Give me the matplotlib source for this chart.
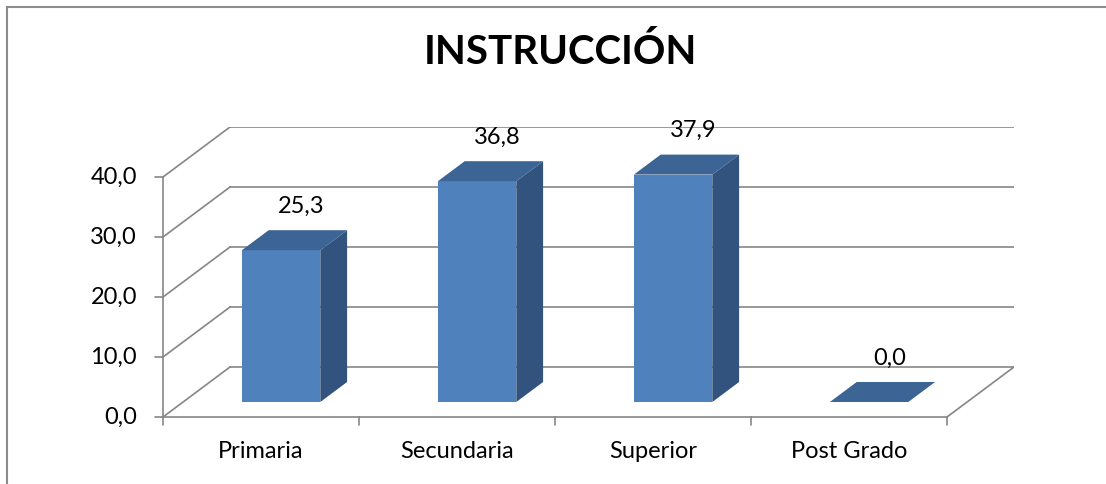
#!/usr/bin/env python3
import matplotlib
matplotlib.use('Agg')
import matplotlib.pyplot as plt
from matplotlib.patches import Polygon
from matplotlib.lines import Line2D

plt.rcParams['font.family'] = ['Lato', 'DejaVu Sans']

# data
categorias = ['Primaria', 'Secundaria', 'Superior', 'Post Grado']
valores = [25.3, 36.8, 37.9, 0.0]
y_ticks = [0, 10, 20, 30, 40]
titulo = 'INSTRUCCIÓN'

W, H, DPI = 1106, 484, 100
fig = plt.figure(figsize=(W / DPI, H / DPI), dpi=DPI)

# plot box in pixels (front floor-left corner and back top-right)
x0_px, y0_px = 163, 417
cat_px = 196          # width of one category
unit_px = 6           # pixels per value unit
dx_px, dy_px = 67, 50  # depth offset

n = len(categorias)
ymax = y_ticks[-1]
DX = dx_px / cat_px
DY = dy_px / unit_px
ax = fig.add_axes([x0_px / W, (H - y0_px) / H,
                   (n * cat_px + dx_px) / W, (ymax * unit_px + dy_px) / H])
ax.set_xlim(0, n + DX)
ax.set_ylim(0, ymax + DY)
ax.axis('off')


def proj(x, y, z):
    return (x + z * DX, y + z * DY)


grid_c = '#868686'
lw = 1.2
fs = 17

# back wall gridlines and side wall diagonals
for v in y_ticks:
    ax.plot([DX, n + DX], [v + DY, v + DY], color=grid_c, lw=lw, zorder=1)
    ax.plot([0, DX], [v, v + DY], color=grid_c, lw=lw, zorder=1)
# floor right edge
ax.plot([n, n + DX], [0, DY], color=grid_c, lw=lw, zorder=1)
# front axes
ax.plot([0, 0], [0, ymax], color=grid_c, lw=lw, zorder=1, clip_on=False)
ax.plot([0, n], [0, 0], color=grid_c, lw=lw, zorder=1, clip_on=False)

tick_len = 8 * 72 / DPI
for v in y_ticks:
    ax.annotate('', xy=(0, v), xytext=(-tick_len, 0), textcoords='offset points',
                arrowprops=dict(arrowstyle='-', color=grid_c, lw=lw,
                                shrinkA=0, shrinkB=0))
    ax.annotate(f'{v:.1f}'.replace('.', ','), xy=(0, v), xytext=(-26 * 72 / DPI, 0),
                textcoords='offset points', ha='right', va='center',
                fontsize=fs, color='black')
for i in range(n + 1):
    ax.annotate('', xy=(i, 0), xytext=(0, -tick_len), textcoords='offset points',
                arrowprops=dict(arrowstyle='-', color=grid_c, lw=lw,
                                shrinkA=0, shrinkB=0))
for i, c in enumerate(categorias):
    ax.annotate(c, xy=(i + 0.5, 0), xytext=(0, -41 * 72 / DPI),
                textcoords='offset points', ha='center', va='baseline',
                fontsize=fs, color='black')

# bars
front_c = '#4F81BD'
side_c = '#31537D'
top_c = '#3C6494'
bw, z0, z1 = 0.4, 0.3, 0.7
for i, v in enumerate(valores):
    xa = i + 0.5 - bw / 2
    xb = i + 0.5 + bw / 2
    if v > 0:
        front = [proj(xa, 0, z0), proj(xb, 0, z0), proj(xb, v, z0), proj(xa, v, z0)]
        side = [proj(xb, 0, z0), proj(xb, 0, z1), proj(xb, v, z1), proj(xb, v, z0)]
        ax.add_patch(Polygon(front, closed=True, fc=front_c, ec='none', zorder=3))
        ax.add_patch(Polygon(side, closed=True, fc=side_c, ec='none', zorder=3))
    top = [proj(xa, v, z0), proj(xb, v, z0), proj(xb, v, z1), proj(xa, v, z1)]
    ax.add_patch(Polygon(top, closed=True, fc=top_c, ec='none', zorder=3))
    lx, _ = proj(i + 0.5, v, 0.6)
    ly = v + z1 * DY
    ax.annotate(f'{v:.1f}'.replace('.', ','), xy=(lx, ly), xytext=(0, 24 * 72 / DPI),
                textcoords='offset points', ha='center', va='center',
                fontsize=fs, color='black', zorder=5)

# title
fig.text(560 / W, 1 - 64 / H, titulo, ha='center', va='baseline',
         fontsize=29, fontweight='bold', color='black')

# chart frame (left and top edges visible)
fig.add_artist(Line2D([7 / W, 7 / W], [0, 1 - 7 / H], transform=fig.transFigure,
                      color='#8C8C8C', lw=1.5))
fig.add_artist(Line2D([7 / W, 1], [1 - 7 / H, 1 - 7 / H], transform=fig.transFigure,
                      color='#8C8C8C', lw=1.5))

fig.savefig('out.png', dpi=DPI)
plt.close(fig)
